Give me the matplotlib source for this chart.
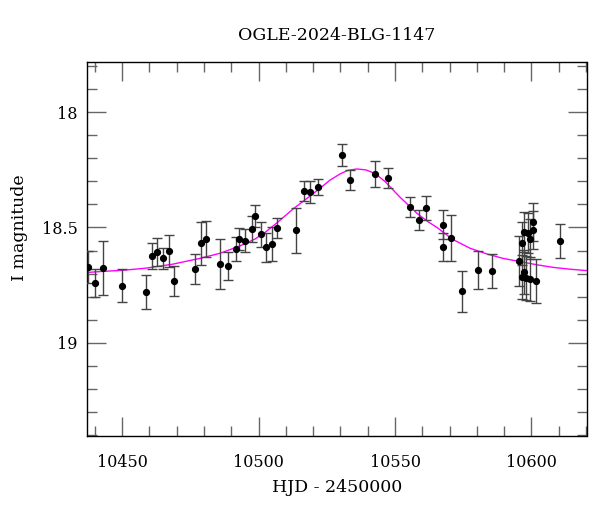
import matplotlib
matplotlib.use("Agg")
import matplotlib.pyplot as plt
from matplotlib.ticker import MultipleLocator

# ---- data (HJD-2450000, I mag, error) ----
hjd = [10437.4, 10440.0, 10443.0, 10449.8, 10458.7, 10460.8, 10462.7, 10464.8,
       10467.0, 10469.0, 10476.8, 10478.7, 10480.7, 10485.9, 10488.8, 10491.8,
       10492.9, 10494.9, 10497.7, 10498.8, 10500.8, 10502.7, 10504.8, 10506.7,
       10513.7, 10516.7, 10518.7, 10521.8, 10530.7, 10533.6, 10542.7, 10547.5,
       10555.5, 10558.7, 10561.5, 10567.6, 10567.6, 10570.6, 10574.6, 10580.5,
       10585.5, 10595.6, 10596.6, 10597.4, 10598.6, 10600.5, 10600.5, 10599.6,
       10596.6, 10597.4, 10598.2, 10599.6, 10601.6, 10610.5]
mag = [18.671, 18.742, 18.677, 18.753, 18.780, 18.625, 18.608, 18.634,
       18.603, 18.731, 18.680, 18.569, 18.551, 18.660, 18.666, 18.592,
       18.550, 18.557, 18.508, 18.450, 18.530, 18.586, 18.572, 18.503,
       18.512, 18.343, 18.346, 18.326, 18.185, 18.294, 18.268, 18.286,
       18.411, 18.469, 18.415, 18.488, 18.585, 18.546, 18.777, 18.686,
       18.689, 18.645, 18.569, 18.520, 18.522, 18.476, 18.512, 18.551,
       18.716, 18.694, 18.719, 18.725, 18.732, 18.557]
err = [0.070, 0.061, 0.117, 0.072, 0.074, 0.056, 0.061, 0.046,
       0.069, 0.065, 0.065, 0.095, 0.078, 0.109, 0.061, 0.052,
       0.048, 0.050, 0.056, 0.048, 0.056, 0.062, 0.074, 0.043,
       0.098, 0.043, 0.048, 0.035, 0.048, 0.043, 0.058, 0.043,
       0.043, 0.043, 0.052, 0.063, 0.059, 0.099, 0.090, 0.082,
       0.072, 0.110, 0.095, 0.087, 0.087, 0.082, 0.082, 0.087,
       0.095, 0.095, 0.095, 0.095, 0.095, 0.074]

# ---- model curve ----
model_t = [10437.2, 10443.7, 10450.0, 10458.3, 10468.2, 10478.5, 10485.8, 10493.2,
           10498.7, 10502.3, 10506.7, 10512.6, 10518.8, 10522.5, 10526.1, 10529.8,
           10532.7, 10536.0, 10539.3, 10542.6, 10546.3, 10551.8, 10558.0, 10562.1,
           10565.4, 10571.2, 10577.5, 10583.7, 10589.6, 10595.8, 10602.1, 10607.9,
           10614.1, 10620.2]
model_m = [18.695, 18.690, 18.686, 18.677, 18.660, 18.634, 18.612, 18.580,
           18.550, 18.522, 18.480, 18.420, 18.364, 18.330, 18.295, 18.268,
           18.252, 18.246, 18.250, 18.265, 18.300, 18.368, 18.438, 18.475,
           18.500, 18.552, 18.590, 18.615, 18.634, 18.648, 18.662, 18.673,
           18.681, 18.687]

title = "OGLE-2024-BLG-1147"
xlabel = "HJD - 2450000"
ylabel = "I magnitude"

FONT = "DejaVu Serif"
plt.rcParams["font.family"] = FONT

W, H = 600, 512
fig = plt.figure(figsize=(W / 100, H / 100), dpi=100)
L, R, T, B = 87.3, 586.5, 62.3, 436.0
ax = fig.add_axes([L / W, 1 - B / H, (R - L) / W, (B - T) / H])

ax.plot(model_t, model_m, color="#ff00ff", lw=1.0, zorder=2)
ax.errorbar(hjd, mag, yerr=err, fmt="o", color="black", ms=4.2,
            ecolor="#444444", elinewidth=1.0, capsize=3.5, capthick=1.0, zorder=3)

ax.set_xlim(10437.2, 10620.2)
ax.set_ylim(19.405, 17.783)

ax.xaxis.set_major_locator(MultipleLocator(50))
ax.xaxis.set_minor_locator(MultipleLocator(10))
ax.yaxis.set_major_locator(MultipleLocator(0.5))
ax.yaxis.set_minor_locator(MultipleLocator(0.1))
ax.yaxis.set_major_formatter(plt.FuncFormatter(lambda v, p: f"{v:g}"))

ax.tick_params(which="both", direction="in", top=True, right=True,
               color="#666666", width=1.0)
ax.tick_params(which="major", length=13.5)
ax.tick_params(which="minor", length=7.2)
ax.tick_params(axis="x", which="major", labelsize=11.5, pad=13)
ax.tick_params(axis="y", which="major", labelsize=11.5, pad=7)
for s in ax.spines.values():
    s.set_linewidth(1.0)
    s.set_color("black")

fig.text(337 / W, 1 - 35 / H, title, ha="center", va="center", fontsize=12.5)
fig.text(337 / W, 1 - 488 / H, xlabel, ha="center", va="center", fontsize=12.5)
fig.text(20 / W, 1 - 228 / H, ylabel, ha="center", va="center", fontsize=12.5,
         rotation=90)

fig.savefig("out.png", dpi=100)
